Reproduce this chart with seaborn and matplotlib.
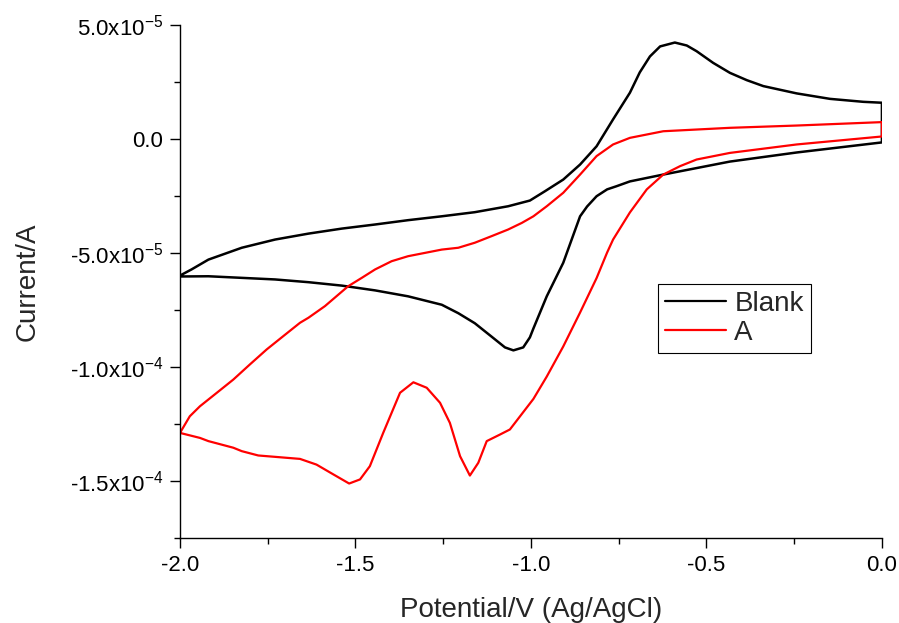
import numpy as np
import pandas as pd
import matplotlib
matplotlib.use("Agg")
import matplotlib.pyplot as plt
import matplotlib.ticker as mticker
import seaborn as sns

# --- datos (potencial en V, corriente en uA) ---
blank_fwd_v = [-2.000, -1.967, -1.919, -1.824, -1.729, -1.634, -1.539, -1.444, -1.350,
               -1.254, -1.160, -1.065, -1.003, -0.960, -0.908, -0.860, -0.813, -0.766,
               -0.718, -0.690, -0.661, -0.632, -0.590, -0.556, -0.528, -0.481, -0.433,
               -0.385, -0.338, -0.243, -0.148, -0.053, 0.000]
blank_fwd_i = [-59.9, -57.2, -52.9, -47.7, -44.1, -41.5, -39.3, -37.5, -35.6,
               -33.9, -32.1, -29.5, -27.0, -22.9, -17.8, -11.2, -3.2, 8.6,
               20.3, 29.2, 36.2, 40.6, 42.3, 41.0, 38.5, 33.4, 29.0,
               25.8, 23.2, 20.0, 17.6, 16.3, 15.9]
blank_rev_v = [0.000, -0.242, -0.433, -0.623, -0.718, -0.756, -0.783, -0.813, -0.840,
               -0.860, -0.908, -0.955, -0.993, -1.003, -1.022, -1.050, -1.074,
               -1.112, -1.160, -1.207, -1.254, -1.350, -1.444, -1.539, -1.634, -1.729,
               -1.824, -1.919, -2.000]
blank_rev_i = [-1.5, -5.9, -9.9, -15.6, -18.6, -20.7, -22.1, -25.1, -29.6,
               -33.9, -54.3, -69.0, -83.1, -87.0, -91.4, -92.7, -91.4,
               -86.7, -80.8, -76.4, -72.7, -69.0, -66.4, -64.3, -62.8, -61.6,
               -60.9, -60.2, -60.3]

a_fwd_v = [-2.000, -1.972, -1.943, -1.895, -1.848, -1.801, -1.753, -1.706, -1.658,
           -1.634, -1.587, -1.521, -1.482, -1.444, -1.397, -1.350, -1.254, -1.207,
           -1.160, -1.112, -1.065, -1.026, -0.993, -0.955, -0.908, -0.860, -0.813,
           -0.766, -0.718, -0.623, -0.433, -0.243, 0.000]
a_fwd_i = [-128.9, -121.6, -117.2, -111.3, -105.5, -98.9, -92.3, -86.5, -80.6,
           -78.4, -73.3, -64.6, -60.9, -57.2, -53.6, -51.4, -48.5, -47.7,
           -45.5, -42.6, -39.7, -36.8, -33.9, -29.5, -23.6, -15.6, -7.5,
           -2.4, 0.5, 3.4, 4.9, 5.9, 7.4]
a_rev_v = [0.000, -0.243, -0.433, -0.528, -0.575, -0.623, -0.670, -0.718, -0.766,
           -0.783, -0.813, -0.860, -0.908, -0.955, -0.993, -1.060, -1.088, -1.126,
           -1.150, -1.174, -1.202, -1.231, -1.259, -1.297, -1.335, -1.373, -1.421,
           -1.459, -1.487, -1.518, -1.563, -1.611, -1.658, -1.729, -1.777, -1.824,
           -1.848, -1.919, -1.943, -2.000]
a_rev_i = [1.1, -2.4, -6.1, -9.0, -11.9, -15.6, -22.1, -32.2, -44.1,
           -49.8, -61.0, -76.1, -91.0, -104.2, -114.0, -127.4, -129.6, -132.5,
           -142.0, -147.6, -139.1, -124.5, -115.7, -109.1, -106.7, -111.3, -128.9,
           -143.5, -149.3, -151.1, -147.1, -142.8, -140.3, -139.4, -138.8, -136.9,
           -135.4, -132.5, -131.1, -128.9]

# --- armar tabla ---
frames = []
for name, v, i in [("Blank", blank_fwd_v + blank_rev_v, blank_fwd_i + blank_rev_i),
                   ("A", a_fwd_v + a_rev_v, a_fwd_i + a_rev_i)]:
    frames.append(pd.DataFrame({"E": v, "I": np.array(i) * 1e-6, "sample": name}))
df = pd.concat(frames, ignore_index=True)

# --- estilo ---
sns.set_theme(style="ticks")
plt.rcParams["font.family"] = ["Liberation Sans", "DejaVu Sans"]
plt.rcParams["mathtext.fontset"] = "custom"
plt.rcParams["mathtext.rm"] = "Liberation Sans"
plt.rcParams["axes.unicode_minus"] = False

fig = plt.figure(figsize=(8.99, 6.23), dpi=100)
ax = fig.add_axes([0.2002, 0.1364, 0.7808, 0.8235])

sns.lineplot(data=df, x="E", y="I", hue="sample", palette={"Blank": "black", "A": "red"},
             sort=False, estimator=None, linewidth=1.6, ax=ax)
ax.lines[0].set_linewidth(1.8)

ax.set_xlim(-2.0, 0.0)
ax.set_ylim(-1.75e-4, 5e-5)
ax.xaxis.set_major_locator(mticker.MultipleLocator(0.5))
ax.xaxis.set_minor_locator(mticker.MultipleLocator(0.25))
ax.yaxis.set_major_locator(mticker.MultipleLocator(5e-5))
ax.yaxis.set_minor_locator(mticker.MultipleLocator(2.5e-5))
ax.xaxis.set_major_formatter(mticker.FormatStrFormatter("%.1f"))


def sci_fmt(val, pos):
    if abs(val) < 1e-12:
        return "0.0"
    exp = int(np.floor(np.log10(abs(val))))
    mant = val / 10 ** exp
    return "%.1fx10$^{\\mathregular{%d}}$" % (mant, exp)


ax.yaxis.set_major_formatter(mticker.FuncFormatter(sci_fmt))

for sp in ["left", "bottom"]:
    ax.spines[sp].set_linewidth(1.0)
    ax.spines[sp].set_color("black")
sns.despine(ax=ax)
ax.tick_params(which="major", direction="out", length=7, width=1.0, labelsize=16,
               color="black", labelcolor="black", pad=5)
ax.tick_params(which="minor", direction="out", length=4, width=1.0, color="black")

ax.set_xlabel("Potential/V (Ag/AgCl)", fontsize=20, labelpad=15)
ax.set_ylabel("Current/A", fontsize=20, labelpad=21)

sns.move_legend(ax, "upper left", bbox_to_anchor=(0.681, 0.495), title=None,
                fontsize=20, frameon=True, fancybox=False, edgecolor="black",
                framealpha=1, borderaxespad=0, handlelength=2.2, handletextpad=0.3,
                labelspacing=0.1, borderpad=0.25)
ax.get_legend().get_frame().set_linewidth(0.8)

fig.savefig("out.png", dpi=100)
